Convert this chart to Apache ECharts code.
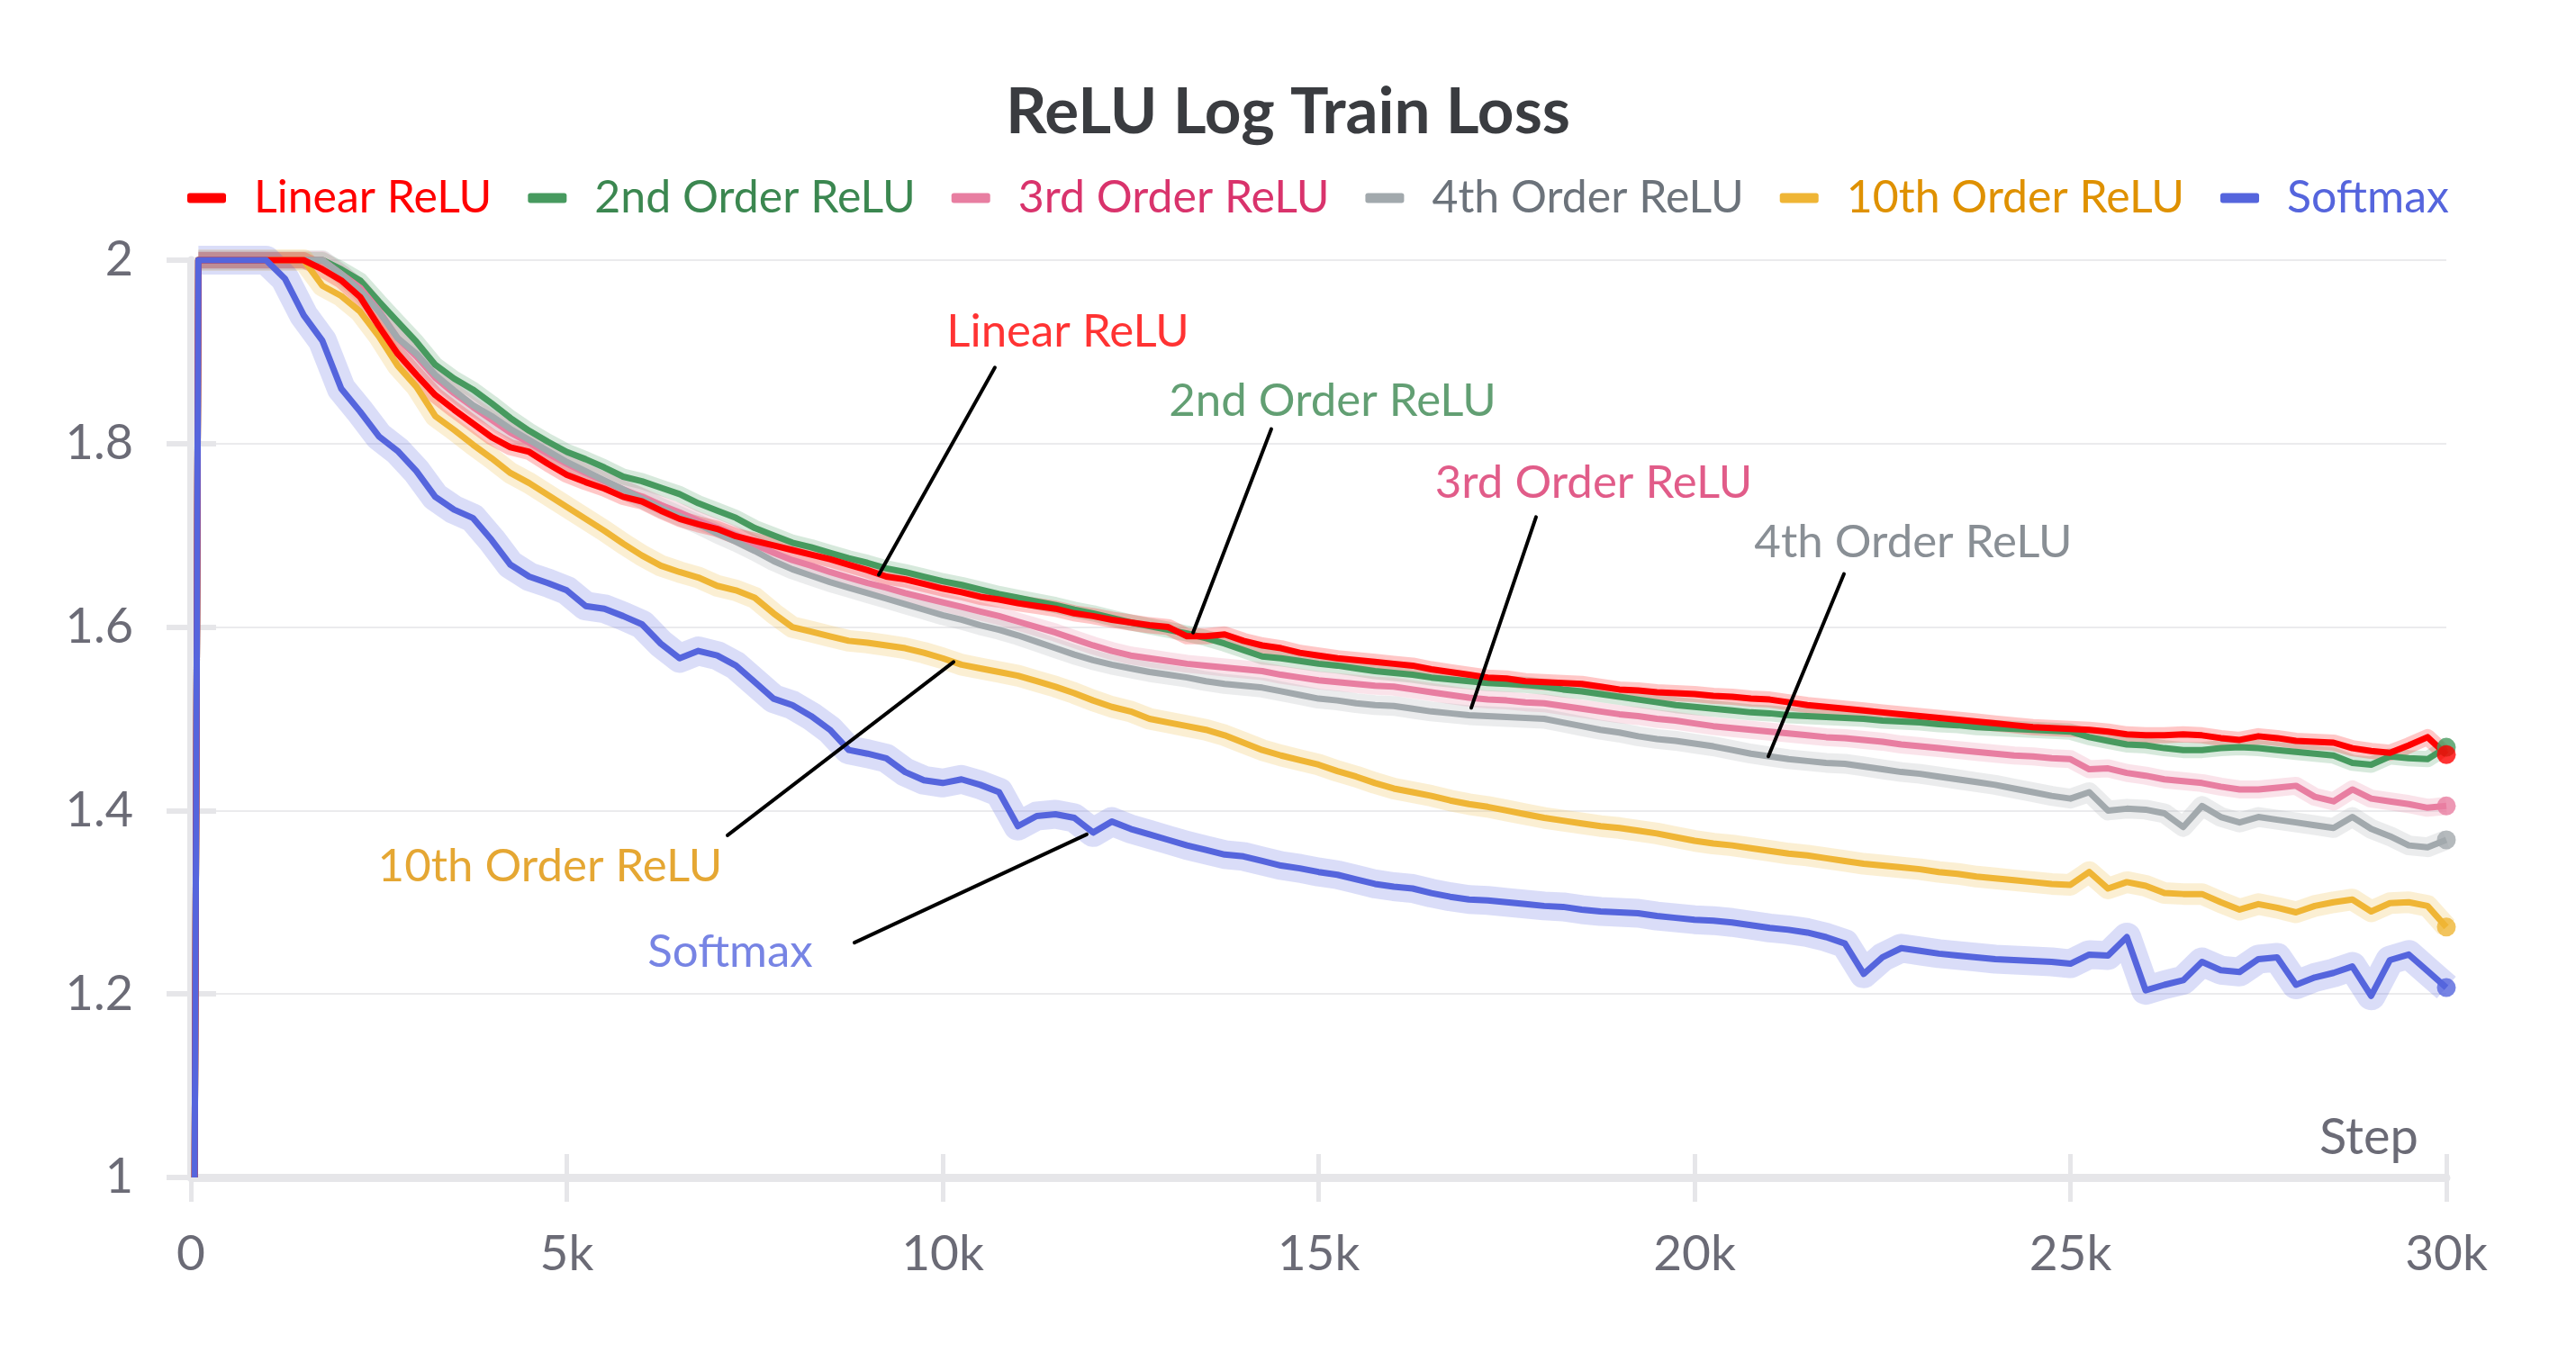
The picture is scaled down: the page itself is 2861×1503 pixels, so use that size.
<!DOCTYPE html>
<html><head><meta charset="utf-8">
<script src="https://cdn.jsdelivr.net/npm/echarts@6/dist/echarts.min.js"></script>
<style>html,body{margin:0;padding:0;background:#fff}#c{width:2861px;height:1503px}</style>
</head><body><div id="c"></div>
<script>
// ---------- DATA ----------
const steps = [50, 100,
  250, 500, 750, 1000, 1250, 1500, 1750, 2000,
  2250, 2500, 2750, 3000, 3250, 3500, 3750, 4000,
  4250, 4500, 4750, 5000, 5250, 5500, 5750, 6000,
  6250, 6500, 6750, 7000, 7250, 7500, 7750, 8000,
  8250, 8500, 8750, 9000, 9250, 9500, 9750, 10000,
  10250, 10500, 10750, 11000, 11250, 11500, 11750, 12000,
  12250, 12500, 12750, 13000, 13250, 13500, 13750, 14000,
  14250, 14500, 14750, 15000, 15250, 15500, 15750, 16000,
  16250, 16500, 16750, 17000, 17250, 17500, 17750, 18000,
  18250, 18500, 18750, 19000, 19250, 19500, 19750, 20000,
  20250, 20500, 20750, 21000, 21250, 21500, 21750, 22000,
  22250, 22500, 22750, 23000, 23250, 23500, 23750, 24000,
  24250, 24500, 24750, 25000, 25250, 25500, 25750, 26000,
  26250, 26500, 26750, 27000, 27250, 27500, 27750, 28000,
  28250, 28500, 28750, 29000, 29250, 29500, 29750, 30000];

const linearRelu = [1.0, 2.0,
  2.0, 2.0, 2.0, 2.0, 2.0, 2.0, 1.990, 1.978,
  1.960, 1.928, 1.898, 1.875, 1.853, 1.837, 1.822, 1.807,
  1.796, 1.791, 1.778, 1.766, 1.758, 1.751, 1.742, 1.737,
  1.727, 1.718, 1.712, 1.707, 1.699, 1.694, 1.689, 1.684,
  1.679, 1.674, 1.668, 1.662, 1.655, 1.652, 1.647, 1.642,
  1.638, 1.633, 1.630, 1.626, 1.623, 1.620, 1.615, 1.612,
  1.608, 1.605, 1.602, 1.600, 1.590, 1.590, 1.592, 1.585,
  1.580, 1.577, 1.572, 1.569, 1.566, 1.564, 1.562, 1.560,
  1.558, 1.554, 1.551, 1.548, 1.545, 1.544, 1.541, 1.540,
  1.539, 1.538, 1.535, 1.532, 1.531, 1.529, 1.528, 1.527,
  1.525, 1.524, 1.522, 1.521, 1.518, 1.515, 1.513, 1.511,
  1.509, 1.507, 1.505, 1.503, 1.501, 1.499, 1.497, 1.495,
  1.493, 1.491, 1.490, 1.489, 1.488, 1.486, 1.483, 1.482,
  1.482, 1.483, 1.482, 1.479, 1.477, 1.481, 1.479, 1.476,
  1.475, 1.474, 1.468, 1.465, 1.463, 1.471, 1.480, 1.461];

const order2Relu = [1.0, 2.0,
  2.0, 2.0, 2.0, 2.0, 2.0, 2.0, 2.0, 1.990,
  1.978, 1.955, 1.933, 1.911, 1.886, 1.871, 1.859, 1.844,
  1.828, 1.814, 1.802, 1.791, 1.783, 1.774, 1.764, 1.759,
  1.752, 1.745, 1.735, 1.727, 1.719, 1.708, 1.700, 1.692,
  1.687, 1.681, 1.675, 1.670, 1.664, 1.660, 1.655, 1.650,
  1.646, 1.641, 1.636, 1.632, 1.628, 1.624, 1.619, 1.615,
  1.610, 1.605, 1.601, 1.597, 1.593, 1.588, 1.582, 1.575,
  1.568, 1.566, 1.563, 1.560, 1.558, 1.555, 1.552, 1.550,
  1.548, 1.545, 1.543, 1.541, 1.539, 1.538, 1.537, 1.535,
  1.532, 1.530, 1.527, 1.524, 1.521, 1.518, 1.515, 1.513,
  1.511, 1.509, 1.507, 1.506, 1.504, 1.503, 1.502, 1.501,
  1.500, 1.498, 1.497, 1.496, 1.494, 1.493, 1.491, 1.490,
  1.489, 1.488, 1.487, 1.486, 1.480, 1.476, 1.472, 1.471,
  1.468, 1.466, 1.466, 1.468, 1.469, 1.468, 1.466, 1.464,
  1.462, 1.460, 1.452, 1.450, 1.459, 1.457, 1.456, 1.469];

const order3Relu = [1.0, 2.0,
  2.0, 2.0, 2.0, 2.0, 2.0, 2.0, 2.0, 1.985,
  1.970, 1.945, 1.915, 1.895, 1.872, 1.855, 1.840, 1.826,
  1.812, 1.801, 1.789, 1.778, 1.768, 1.759, 1.750, 1.742,
  1.733, 1.725, 1.716, 1.708, 1.700, 1.690, 1.681, 1.673,
  1.667, 1.660, 1.654, 1.648, 1.643, 1.637, 1.632, 1.627,
  1.622, 1.617, 1.612, 1.606, 1.600, 1.594, 1.587, 1.580,
  1.574, 1.569, 1.566, 1.563, 1.560, 1.558, 1.556, 1.554,
  1.552, 1.548, 1.545, 1.542, 1.540, 1.538, 1.536, 1.535,
  1.532, 1.529, 1.526, 1.523, 1.521, 1.520, 1.518, 1.517,
  1.514, 1.511, 1.508, 1.505, 1.503, 1.500, 1.498, 1.495,
  1.492, 1.490, 1.488, 1.486, 1.484, 1.482, 1.480, 1.479,
  1.477, 1.475, 1.472, 1.470, 1.468, 1.466, 1.464, 1.462,
  1.460, 1.459, 1.457, 1.456, 1.445, 1.446, 1.441, 1.438,
  1.434, 1.432, 1.430, 1.426, 1.423, 1.423, 1.425, 1.427,
  1.415, 1.410, 1.423, 1.413, 1.410, 1.407, 1.403, 1.405];

const order4Relu = [1.0, 2.0,
  2.0, 2.0, 2.0, 2.0, 2.0, 2.0, 2.0, 1.985,
  1.967, 1.944, 1.915, 1.898, 1.875, 1.858, 1.842, 1.830,
  1.816, 1.804, 1.792, 1.780, 1.770, 1.760, 1.750, 1.740,
  1.730, 1.721, 1.712, 1.702, 1.693, 1.683, 1.672, 1.663,
  1.656, 1.649, 1.643, 1.637, 1.631, 1.625, 1.619, 1.613,
  1.608, 1.602, 1.597, 1.591, 1.584, 1.577, 1.570, 1.564,
  1.559, 1.555, 1.551, 1.548, 1.545, 1.541, 1.538, 1.536,
  1.534, 1.530, 1.526, 1.522, 1.520, 1.517, 1.515, 1.514,
  1.511, 1.508, 1.506, 1.504, 1.503, 1.502, 1.501, 1.500,
  1.496, 1.492, 1.488, 1.485, 1.481, 1.478, 1.476, 1.473,
  1.470, 1.466, 1.462, 1.459, 1.456, 1.454, 1.452, 1.451,
  1.448, 1.445, 1.442, 1.440, 1.437, 1.434, 1.431, 1.428,
  1.424, 1.420, 1.416, 1.413, 1.420, 1.400, 1.402, 1.401,
  1.397, 1.382, 1.405, 1.393, 1.387, 1.393, 1.390, 1.387,
  1.384, 1.381, 1.393, 1.380, 1.372, 1.362, 1.360, 1.368];

const order10Relu = [1.0, 2.0,
  2.0, 2.0, 2.0, 2.0, 2.0, 2.0, 1.972, 1.961,
  1.944, 1.917, 1.885, 1.862, 1.830, 1.815, 1.799, 1.784,
  1.768, 1.757, 1.744, 1.731, 1.718, 1.705, 1.691, 1.678,
  1.667, 1.660, 1.654, 1.645, 1.640, 1.632, 1.615, 1.600,
  1.595, 1.590, 1.585, 1.583, 1.580, 1.577, 1.572, 1.566,
  1.559, 1.555, 1.551, 1.547, 1.541, 1.535, 1.528, 1.520,
  1.513, 1.508, 1.500, 1.496, 1.492, 1.488, 1.482, 1.474,
  1.466, 1.460, 1.455, 1.450, 1.443, 1.437, 1.430, 1.424,
  1.420, 1.416, 1.411, 1.407, 1.404, 1.400, 1.396, 1.392,
  1.389, 1.386, 1.383, 1.381, 1.378, 1.375, 1.371, 1.367,
  1.364, 1.362, 1.359, 1.356, 1.353, 1.351, 1.348, 1.345,
  1.342, 1.340, 1.338, 1.336, 1.333, 1.331, 1.328, 1.326,
  1.324, 1.322, 1.320, 1.319, 1.333, 1.315, 1.322, 1.318,
  1.310, 1.309, 1.309, 1.300, 1.292, 1.298, 1.294, 1.289,
  1.296, 1.300, 1.303, 1.290, 1.299, 1.300, 1.296, 1.273];

const softmax = [1.0, 2.0,
  2.0, 2.0, 2.0, 2.0, 1.980, 1.940, 1.912, 1.860,
  1.835, 1.808, 1.792, 1.770, 1.742, 1.728, 1.719, 1.695,
  1.668, 1.655, 1.648, 1.640, 1.623, 1.620, 1.612, 1.603,
  1.582, 1.566, 1.574, 1.569, 1.558, 1.540, 1.522, 1.515,
  1.503, 1.488, 1.466, 1.462, 1.457, 1.442, 1.433, 1.430,
  1.434, 1.428, 1.420, 1.383, 1.394, 1.396, 1.392, 1.376,
  1.388, 1.380, 1.374, 1.368, 1.362, 1.357, 1.352, 1.350,
  1.345, 1.340, 1.337, 1.333, 1.330, 1.325, 1.320, 1.317,
  1.315, 1.310, 1.306, 1.303, 1.302, 1.300, 1.298, 1.296,
  1.295, 1.292, 1.290, 1.289, 1.288, 1.285, 1.283, 1.281,
  1.280, 1.278, 1.275, 1.272, 1.270, 1.267, 1.262, 1.255,
  1.222, 1.240, 1.250, 1.247, 1.244, 1.242, 1.240, 1.238,
  1.237, 1.236, 1.235, 1.233, 1.243, 1.242, 1.262, 1.204,
  1.210, 1.215, 1.235, 1.226, 1.224, 1.238, 1.240, 1.210,
  1.218, 1.223, 1.230, 1.198, 1.237, 1.243, 1.225, 1.207];

const seriesNames = ['Linear ReLU', '2nd Order ReLU', '3rd Order ReLU', '4th Order ReLU', '10th Order ReLU', 'Softmax'];
const seriesValues = [linearRelu, order2Relu, order3Relu, order4Relu, order10Relu, softmax];
const xTicks = [0, 5000, 10000, 15000, 20000, 25000, 30000];
const xTickLabels = ['0', '5k', '10k', '15k', '20k', '25k', '30k'];
const yTicks = [1, 1.2, 1.4, 1.6, 1.8, 2];
const yTickLabels = ['1', '1.2', '1.4', '1.6', '1.8', '2'];

// annotation anchors in data space: label centre, leader start, leader end
const annotations = [
  { name: 'Linear ReLU',     label: [11665, 1.922], from: [10694, 1.883], to: [9150, 1.657] },
  { name: '2nd Order ReLU',  label: [15185, 1.846], from: [14371, 1.816], to: [13330, 1.594] },
  { name: '3rd Order ReLU',  label: [18659, 1.757], from: [17892, 1.720], to: [17030, 1.512] },
  { name: '4th Order ReLU',  label: [22910, 1.692], from: [21988, 1.658], to: [20982, 1.459] },
  { name: '10th Order ReLU', label: [4778, 1.339],  from: [7138, 1.373],  to: [10144, 1.562] },
  { name: 'Softmax',         label: [7174, 1.246],  from: [8826, 1.256],  to: [11916, 1.374] }
];

// ---------- STYLE ----------
const lineColors = ['#ff0000', '#479a5f', '#e87ea1', '#a2a9ad', '#efb535', '#5565dd'];
const textColors = ['#ff0000', '#3b8750', '#d9336c', '#6c737b', '#df9100', '#5565dd'];
const bandWidths = [18, 18, 20, 22, 24, 32];
const FONT = 'Lato, "Noto Sans", sans-serif';
const axisGrey = '#e6e6e9';
const drawOrder = [1, 2, 3, 4, 0, 5];

const series = [];
// translucent bands (skip the initial jump)
drawOrder.forEach(i => {
  series.push({
    name: seriesNames[i] + ' band', type: 'line', silent: true, clip: false,
    data: steps.map((s, k) => [s, seriesValues[i][k]]).slice(1),
    symbol: 'none', z: 1,
    lineStyle: { color: lineColors[i], width: bandWidths[i], opacity: 0.22, join: 'round' }
  });
});
// main lines
drawOrder.forEach(i => {
  series.push({
    name: seriesNames[i], type: 'line', clip: false,
    data: steps.map((s, k) => [s, seriesValues[i][k]]),
    symbol: 'none', z: 3,
    itemStyle: { color: lineColors[i] },
    lineStyle: { color: lineColors[i], width: 7, join: 'round' }
  });
});
// end dots
series.push({
  name: 'end', type: 'scatter', silent: true, z: 4, symbolSize: 21,
  data: drawOrder.map(i => ({
    value: [steps[steps.length - 1], seriesValues[i][seriesValues[i].length - 1]],
    itemStyle: { color: lineColors[i] }
  }))
});
// leader lines
annotations.forEach(a => {
  series.push({
    name: 'leader ' + a.name, type: 'line', silent: true, z: 6, symbol: 'none', clip: false,
    data: [a.from, a.to],
    lineStyle: { color: '#000', width: 4, cap: 'round' }
  });
});
// annotation texts
series.push({
  name: 'annotation text', type: 'scatter', silent: true, z: 7, symbolSize: 0,
  data: annotations.map(a => {
    const i = seriesNames.indexOf(a.name);
    return {
      value: a.label,
      label: { show: true, position: 'inside', formatter: a.name, color: textColors[i],
               fontFamily: FONT, fontSize: 51, align: 'center', verticalAlign: 'middle' }
    };
  })
});

const option = {
  animation: false,
  backgroundColor: '#ffffff',
  title: {
    text: 'ReLU Log Train Loss', left: 'center', top: 84, padding: 0,
    textStyle: { fontFamily: FONT, fontSize: 71, fontWeight: 'bold', color: '#3a3c40', lineHeight: 82 }
  },
  legend: {
    left: 208, top: 190, padding: 0, itemGap: 40, itemWidth: 43, itemHeight: 11,
    icon: 'roundRect',
    data: seriesNames.map((n, i) => ({ name: n, itemStyle: { color: lineColors[i] },
      textStyle: { color: textColors[i] } })),
    textStyle: { fontFamily: FONT, fontSize: 50, lineHeight: 60, padding: [0, 0, 0, 26] }
  },
  grid: { left: 212, right: 144, top: 289, bottom: 195, containLabel: false },
  xAxis: [{
    type: 'value', min: 0, max: 30000, interval: 5000,
    name: 'Step', nameLocation: 'end', nameGap: -31,
    nameTextStyle: { fontFamily: FONT, fontSize: 56, color: '#6b6b76', align: 'right',
                     verticalAlign: 'bottom', padding: [0, 0, 16, 0] },
    axisLine: { show: true, lineStyle: { color: axisGrey, width: 9 } },
    axisTick: { show: true, length: 27, lineStyle: { color: axisGrey, width: 5 } },
    axisLabel: { margin: 58, fontFamily: FONT, fontSize: 55, color: '#6b6b76',
      formatter: v => xTickLabels[xTicks.indexOf(v)] },
    splitLine: { show: false }
  }, {
    type: 'value', min: 0, max: 30000, interval: 5000, position: 'bottom',
    axisLine: { show: false }, axisLabel: { show: false }, splitLine: { show: false },
    axisTick: { show: true, inside: true, length: 26, lineStyle: { color: axisGrey, width: 5 } }
  }],
  yAxis: [{
    type: 'value', min: 1, max: 2, interval: 0.2,
    axisLine: { show: true, lineStyle: { color: axisGrey, width: 9 } },
    axisTick: { show: true, length: 27, lineStyle: { color: axisGrey, width: 6 } },
    axisLabel: { margin: 64, fontFamily: FONT, fontSize: 54, color: '#6b6b76',
      formatter: v => yTickLabels[yTicks.findIndex(t => Math.abs(t - v) < 1e-6)] },
    splitLine: { show: true, lineStyle: { color: '#ebebed', width: 2 } }
  }, {
    type: 'value', min: 1, max: 2, interval: 0.2, position: 'left',
    axisLine: { show: false }, axisLabel: { show: false }, splitLine: { show: false },
    axisTick: { show: true, inside: true, length: 28, lineStyle: { color: axisGrey, width: 6 } }
  }],
  series: series
};

const chart = echarts.init(document.getElementById('c'), null, { renderer: 'canvas' });
chart.setOption(option);
</script>
</body></html>
